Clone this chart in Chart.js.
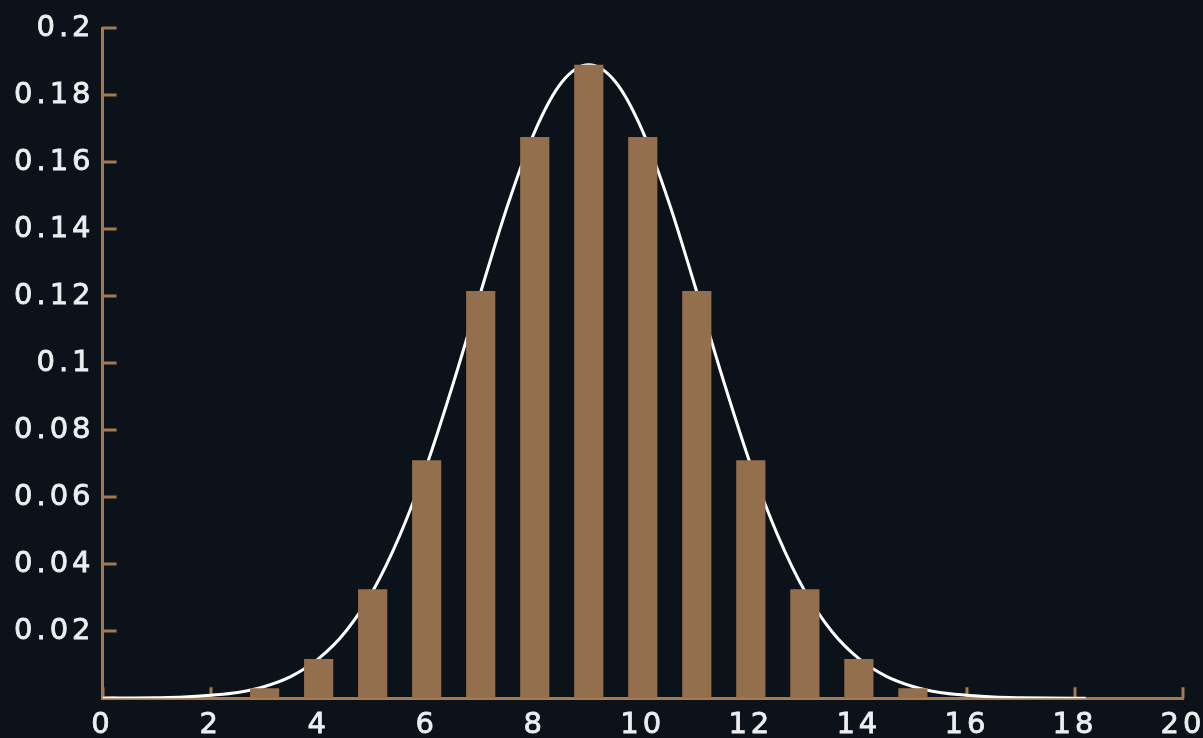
<!DOCTYPE html>
<html>
<head>
<meta charset="utf-8">
<script src="https://cdn.jsdelivr.net/npm/chart.js@4/dist/chart.umd.min.js"></script>
<style>
  html, body { margin: 0; padding: 0; background: #0b121a; }
  #wrap { width: 1203px; height: 738px; }
</style>
</head>
<body>
<div id="wrap"><canvas id="c" width="1203" height="738"></canvas></div>
<script>
// Probability mass at each count
const barX = [3, 4, 5, 6, 7, 8, 9, 10, 11, 12, 13, 14, 15];
const barY = [0.003, 0.0117, 0.0325, 0.071, 0.1215, 0.1675, 0.189, 0.1675, 0.1215, 0.071, 0.0325, 0.0117, 0.003];

// Smooth density curve laid over the bars
const curveX = [0, 0.5, 1, 1.5, 2, 2.5, 3, 3.5, 4, 4.5, 5, 5.5, 6, 6.5, 7, 7.5, 8, 8.5, 9,
                9.5, 10, 10.5, 11, 11.5, 12, 12.5, 13, 13.5, 14, 14.5, 15, 15.5, 16, 16.5, 17, 17.5, 18, 18.2];
const curveY = [0.00002, 0.00006, 0.00015, 0.00036, 0.0009, 0.0017, 0.0035, 0.0066, 0.0118, 0.0199,
                0.0319, 0.0485, 0.0695, 0.0944, 0.1212, 0.1472, 0.1691, 0.1838, 0.189,
                0.1838, 0.1691, 0.1472, 0.1212, 0.0944, 0.0695, 0.0485, 0.0319, 0.0199, 0.0118,
                0.0066, 0.0035, 0.0017, 0.0009, 0.00036, 0.00015, 0.00006, 0.00002, 0.00001];

// Axis tick positions and their labels
const xTicks = [0, 2, 4, 6, 8, 10, 12, 14, 16, 18, 20];
const xTickLabels = ['0', '2', '4', '6', '8', '10', '12', '14', '16', '18', '20'];
const yTicks = [0, 0.02, 0.04, 0.06, 0.08, 0.1, 0.12, 0.14, 0.16, 0.18, 0.2];
const yTickLabels = ['', '0.02', '0.04', '0.06', '0.08', '0.1', '0.12', '0.14', '0.16', '0.18', '0.2'];

const AXIS = '#a57a50';
const BAR = '#946f4d';
const TEXT = '#eceef0';
const BG = '#0b121a';
const SPACING = '4px';

const tickFont = { family: '"DejaVu Sans", sans-serif', size: 29 };

// Background, letter spacing, and inward-facing tick marks
const decor = {
  id: 'decor',
  beforeInit(chart) { chart.ctx.letterSpacing = SPACING; },
  beforeUpdate(chart) { chart.ctx.letterSpacing = SPACING; },
  beforeDraw(chart) {
    const ctx = chart.ctx;
    ctx.save();
    ctx.fillStyle = BG;
    ctx.fillRect(0, 0, chart.width, chart.height);
    ctx.restore();
    ctx.letterSpacing = SPACING;
  },
  beforeDatasetsDraw(chart) {
    const ctx = chart.ctx;
    const xs = chart.scales.x, ys = chart.scales.y;
    const area = chart.chartArea;
    ctx.save();
    ctx.strokeStyle = AXIS;
    ctx.lineWidth = 3;
    ctx.beginPath();
    yTicks.forEach(v => {
      const py = Math.round(ys.getPixelForValue(v));
      ctx.moveTo(area.left, py);
      ctx.lineTo(area.left + 14, py);
    });
    xTicks.forEach(v => {
      const px = Math.round(xs.getPixelForValue(v));
      ctx.moveTo(px, area.bottom);
      ctx.lineTo(px, area.bottom - 11);
    });
    ctx.stroke();
    ctx.restore();
  }
};

const tickText = { color: TEXT, font: tickFont, textStrokeColor: TEXT, textStrokeWidth: 0.8, autoSkip: false };

new Chart(document.getElementById('c'), {
  type: 'bar',
  data: {
    datasets: [
      {
        type: 'bar',
        data: barX.map((x, i) => ({ x, y: barY[i] })),
        backgroundColor: BAR,
        borderWidth: 0,
        barPercentage: 0.54,
        categoryPercentage: 1,
        order: 0
      },
      {
        type: 'line',
        data: curveX.map((x, i) => ({ x, y: curveY[i] })),
        borderColor: '#ffffff',
        borderWidth: 3,
        pointRadius: 0,
        fill: false,
        cubicInterpolationMode: 'monotone',
        order: 1
      }
    ]
  },
  options: {
    responsive: false,
    animation: false,
    devicePixelRatio: 1,
    layout: { padding: { left: 6, top: 28, right: 20, bottom: -15 } },
    plugins: { legend: { display: false }, tooltip: { enabled: false } },
    scales: {
      x: {
        type: 'linear',
        min: 0, max: 20,
        offset: false,
        afterBuildTicks: s => { s.ticks = xTicks.map(v => ({ value: v })); },
        afterFit: s => { s.paddingLeft = 0; s.paddingRight = 0; },
        ticks: Object.assign({}, tickText, {
          padding: 10, maxRotation: 0,
          callback: v => xTickLabels[xTicks.indexOf(v)]
        }),
        grid: { display: true, drawOnChartArea: false, drawTicks: false, color: 'rgba(0,0,0,0)' },
        border: { display: true, color: AXIS, width: 3 }
      },
      y: {
        type: 'linear',
        min: 0, max: 0.2,
        afterBuildTicks: s => { s.ticks = yTicks.map(v => ({ value: v })); },
        afterFit: s => { s.paddingTop = 0; s.paddingBottom = 0; },
        ticks: Object.assign({}, tickText, {
          padding: 8,
          callback: v => yTickLabels[yTicks.findIndex(t => Math.abs(t - v) < 1e-9)]
        }),
        grid: { display: true, drawOnChartArea: false, drawTicks: false, color: 'rgba(0,0,0,0)' },
        border: { display: true, color: AXIS, width: 3 }
      }
    }
  },
  plugins: [decor]
});
</script>
</body>
</html>
